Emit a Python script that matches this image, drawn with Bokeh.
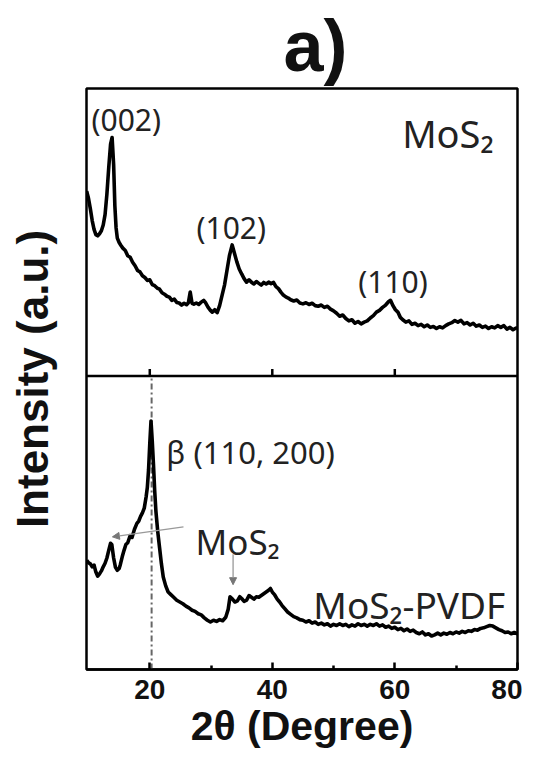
from bokeh.plotting import figure
from bokeh.models import Span, Arrow, NormalHead, FixedTicker, Range1d, Title
from bokeh.core.properties import value
from bokeh.embed import file_html
from bokeh.resources import INLINE

# ---------------- data ----------------
# MoS2 (upper panel), intensity in a.u. (panel baseline = 0)
mos2_2theta = [9.7, 10.0, 10.3, 10.6, 10.9, 11.2, 11.5, 11.8, 12.1, 12.4, 12.7, 13.0, 13.3, 13.6, 13.85,
               14.1, 14.3, 14.5, 14.7, 15.0, 15.3, 15.6, 16.0, 16.4, 16.8, 17.2, 17.6, 18.0, 18.4, 18.8,
               19.2, 19.6, 20.0, 20.4, 20.8, 21.2, 21.6, 22.0, 22.4, 22.8, 23.2, 23.6, 24.0, 24.4, 24.8,
               25.2, 25.6, 26.0, 26.3, 26.6, 26.9, 27.2, 27.6, 28.0, 28.4, 28.8, 29.1, 29.5, 29.9, 30.2,
               30.6, 31.0, 31.4, 31.8, 32.2, 32.6, 33.0, 33.45, 33.8, 34.2, 34.6, 35.0, 35.4, 35.8, 36.2,
               36.6, 37.0, 37.4, 37.8, 38.2, 38.6, 39.0, 39.4, 39.8, 40.2, 40.6, 41.0, 41.4, 41.8, 42.2,
               42.6, 43.0, 43.5, 44.0, 44.5, 45.0, 45.5, 46.0, 46.5, 47.0, 47.5, 48.0, 48.5, 49.0, 49.5,
               50.0, 50.5, 51.0, 51.5, 52.0, 52.5, 53.0, 53.5, 54.0, 54.5, 55.0, 55.5, 56.0, 56.5, 57.0,
               57.5, 58.0, 58.5, 59.0, 59.3, 59.7, 60.1, 60.5, 60.9, 61.3, 61.8, 62.3, 62.8, 63.3, 63.8,
               64.3, 64.8, 65.3, 65.8, 66.3, 66.8, 67.3, 67.8, 68.3, 68.8, 69.3, 69.8, 70.3, 70.8, 71.3,
               71.8, 72.3, 72.8, 73.3, 73.8, 74.3, 74.8, 75.3, 75.8, 76.3, 76.8, 77.3, 77.8, 78.3, 78.8,
               79.3, 79.8, 80.0]
mos2_intensity = [63.0, 60.5, 57.0, 53.0, 50.0, 48.2, 47.8, 48.5, 49.5, 51.5, 55.0, 62.0, 71.0, 79.0, 81.3,
                  72.0, 58.0, 50.5, 47.0, 45.5, 44.5, 43.6, 42.8, 41.0, 40.5, 38.8, 37.6, 36.0, 35.5, 34.2,
                  33.6, 32.6, 32.8, 31.2, 30.8, 30.0, 29.6, 28.4, 27.9, 27.2, 26.9, 25.8, 26.2, 25.1, 24.9,
                  24.2, 24.8, 24.3, 25.0, 28.6, 24.8, 24.5, 24.9, 24.4, 25.2, 25.8, 25.0, 23.5, 22.4, 21.8,
                  22.6, 21.6, 24.0, 27.5, 31.0, 36.0, 41.0, 44.7, 42.0, 39.0, 36.5, 34.8, 33.2, 32.0, 32.8,
                  32.0, 31.4, 32.2, 31.6, 31.0, 31.9, 31.4, 32.0, 31.5, 31.9, 30.5, 29.8, 28.6, 27.6, 27.0,
                  26.6, 26.0, 25.6, 25.9, 24.9, 24.6, 25.0, 24.4, 24.8, 24.0, 23.8, 24.2, 23.4, 23.8, 22.8,
                  22.2, 21.4, 20.4, 20.8, 19.6, 18.8, 19.2, 18.0, 18.6, 17.8, 18.4, 18.8, 19.8, 20.6, 21.8,
                  22.4, 23.4, 24.2, 25.4, 25.8, 24.0, 22.6, 21.8, 20.0, 19.2, 18.4, 18.8, 17.6, 18.0, 17.2,
                  17.6, 16.8, 17.4, 16.6, 16.9, 16.2, 16.8, 16.4, 17.2, 17.8, 18.2, 18.9, 18.4, 19.0, 17.8,
                  18.2, 17.4, 18.0, 17.0, 17.4, 16.6, 17.0, 16.2, 16.8, 16.4, 17.2, 16.6, 17.2, 16.0, 16.6,
                  15.8, 16.4, 16.2]

# MoS2-PVDF (lower panel), intensity in a.u.
pvdf_2theta = [9.7, 10.0, 10.3, 10.6, 10.9, 11.2, 11.5, 11.8, 12.1, 12.4, 12.7, 13.0, 13.3, 13.6, 13.8,
               14.1, 14.4, 14.7, 15.0, 15.2, 15.5, 15.8, 16.1, 16.4, 16.8, 17.1, 17.5, 17.9, 18.2, 18.5,
               18.8, 19.1, 19.4, 19.6, 19.8, 20.0, 20.2, 20.4, 20.6, 20.8, 21.0, 21.3, 21.6, 21.9, 22.2,
               22.6, 23.0, 23.4, 23.9, 24.4, 24.9, 25.4, 25.9, 26.4, 26.9, 27.4, 27.9, 28.4, 28.9, 29.4,
               29.9, 30.4, 30.9, 31.4, 31.9, 32.4, 32.8, 33.1, 33.5, 33.9, 34.3, 34.7, 35.0, 35.4, 35.8,
               36.2, 36.6, 37.0, 37.4, 37.8, 38.2, 38.6, 39.0, 39.4, 39.7, 40.0, 40.4, 40.8, 41.2, 41.6,
               42.0, 42.5, 43.0, 43.5, 44.0, 44.5, 45.0, 45.5, 46.0, 46.5, 47.0, 47.5, 48.0, 48.5, 49.0,
               49.5, 50.0, 50.5, 51.0, 51.5, 52.0, 52.5, 53.0, 53.5, 54.0, 54.5, 55.0, 55.5, 56.0, 56.5,
               57.0, 57.5, 58.0, 58.5, 59.0, 59.5, 60.0, 60.5, 61.0, 61.5, 62.0, 62.5, 63.0, 63.5, 64.0,
               64.5, 65.0, 65.5, 66.0, 66.5, 67.0, 67.5, 68.0, 68.5, 69.0, 69.5, 70.0, 70.5, 71.0, 71.5,
               72.0, 72.5, 73.0, 73.5, 74.0, 74.5, 75.0, 75.5, 76.0, 76.5, 77.0, 77.5, 78.0, 78.5, 79.0,
               79.5, 80.0]
pvdf_intensity = [37.2, 36.4, 36.0, 35.0, 35.6, 33.2, 31.8, 32.6, 33.6, 35.0, 36.2, 38.0, 40.6, 43.0, 42.6,
                  38.0, 34.8, 33.8, 34.4, 35.8, 38.4, 40.6, 42.6, 43.2, 45.6, 45.0, 47.8, 49.8, 50.6, 52.2,
                  53.4, 55.0, 58.8, 62.0, 68.0, 77.0, 84.7, 78.0, 70.0, 61.0, 54.0, 47.0, 41.5, 36.0, 31.5,
                  28.5, 26.4, 25.6, 24.6, 23.6, 23.0, 22.4, 21.6, 21.0, 20.2, 19.8, 19.0, 18.6, 17.6, 16.8,
                  16.2, 16.8, 16.4, 17.0, 16.6, 17.8, 20.5, 24.8, 24.0, 23.0, 23.4, 24.8, 24.2, 23.2, 23.6,
                  25.2, 24.6, 24.0, 24.8, 24.6, 25.2, 25.8, 26.4, 27.0, 27.6, 26.4, 25.4, 24.0, 23.0, 21.8,
                  20.8, 19.6, 18.8, 18.0, 17.6, 17.0, 16.8, 16.2, 16.6, 15.8, 16.2, 15.4, 15.8, 15.2, 15.6,
                  14.8, 15.4, 15.0, 15.6, 15.0, 15.4, 14.6, 15.2, 14.8, 15.6, 15.0, 15.4, 14.8, 15.4, 15.0,
                  15.6, 14.8, 15.2, 14.4, 14.8, 14.0, 14.4, 13.6, 14.0, 13.2, 13.8, 13.0, 13.4, 12.6, 12.2,
                  12.8, 11.8, 12.2, 11.4, 11.8, 12.4, 11.8, 12.4, 12.0, 12.6, 12.2, 12.8, 12.4, 13.0, 12.6,
                  13.2, 13.0, 13.6, 13.4, 14.0, 14.2, 14.6, 15.0, 14.8, 14.2, 13.6, 13.2, 12.6, 12.8, 12.2,
                  12.6, 12.2]

upper_offset = 100.0          # vertical offset of the MoS2 trace (panel divider)
x_ticks = [20, 40, 60, 80]
x_minor_ticks = [30, 50, 70]
divider_ticks = [20, 40, 60]
beta_peak = 20.3              # position of the beta (110, 200) line

peak_labels = ["(002)", "(102)", "(110)"]
peak_label_x = [16.16, 33.3, 59.7]
peak_label_y = [87.4, 50.5, 32.2]

# ---------------- figure ----------------
p = figure(width=522, height=763, output_backend="svg", toolbar_location=None,
           x_range=Range1d(9.67, 80.03), y_range=Range1d(0, 198),
           min_border_left=86, min_border_right=5, min_border_top=88, min_border_bottom=94)

p.title = Title(text="a)", align="left", offset=197, standoff=2, vertical_align="top",
                text_font="Liberation Sans", text_font_size="72px",
                text_font_style="bold", text_color="#111111")

p.background_fill_color = "white"
p.border_fill_color = "white"
p.outline_line_color = "black"
p.outline_line_width = 2.5
p.xgrid.visible = False
p.ygrid.visible = False

xa = p.xaxis[0]
xa.ticker = FixedTicker(ticks=x_ticks, minor_ticks=x_minor_ticks)
xa.major_tick_in = 7
xa.major_tick_out = 0
xa.minor_tick_in = 4
xa.minor_tick_out = 0
xa.major_tick_line_width = 2.5
xa.minor_tick_line_width = 2.5
xa.axis_line_width = 2.5
xa.major_label_text_font = "Liberation Sans"
xa.major_label_text_font_size = "28px"
xa.major_label_text_font_style = "bold"
xa.major_label_text_color = "#111111"
xa.major_label_standoff = 10
xa.axis_label = "2θ (Degree)"
xa.axis_label_text_font = "Liberation Sans"
xa.axis_label_text_font_size = "41px"
xa.axis_label_text_font_style = "bold"
xa.axis_label_text_color = "#111111"
xa.axis_label_standoff = 1

ya = p.yaxis[0]
ya.ticker = FixedTicker(ticks=[])
ya.axis_line_color = None
ya.major_tick_in = 0
ya.major_tick_out = 0
ya.minor_tick_in = 0
ya.minor_tick_out = 0
ya.major_label_standoff = 0
ya.axis_label = "Intensity (a.u.)"
ya.axis_label_text_font = "Liberation Sans"
ya.axis_label_text_font_size = "44px"
ya.axis_label_text_font_style = "bold"
ya.axis_label_text_color = "#111111"
ya.axis_label_standoff = 30

# panel divider with its upward ticks
p.add_layout(Span(location=upper_offset, dimension="width", line_color="black", line_width=2.5))
p.segment(x0=divider_ticks, y0=[upper_offset] * len(divider_ticks),
          x1=divider_ticks, y1=[upper_offset + 2.4] * len(divider_ticks),
          line_color="black", line_width=2.5)

# dash-dot guide at beta peak
p.segment(x0=[beta_peak], y0=[0], x1=[beta_peak], y1=[upper_offset],
          line_color="#666666", line_width=2, line_dash="6 3 2 3")

# traces
p.line(mos2_2theta, [v + upper_offset for v in mos2_intensity],
       line_color="black", line_width=3.6, line_join="round")
p.line(pvdf_2theta, pvdf_intensity, line_color="black", line_width=3.6, line_join="round")

# annotations
font = value("Noto Sans")
p.text(x=peak_label_x, y=[v + upper_offset for v in peak_label_y], text=peak_labels,
       text_font=font, text_font_size="30px", text_align="center", text_baseline="middle",
       text_color="#222222")
p.text(x=[61.2], y=[83.0 + upper_offset], text=["MoS₂"], text_font=font, text_font_size="38px",
       text_align="left", text_baseline="alphabetic", text_color="#222222")
p.text(x=[22.7], y=[74.0], text=["β (110, 200)"], text_font=font, text_font_size="31px",
       text_align="left", text_baseline="alphabetic", text_color="#222222")
p.text(x=[27.46], y=[43.7], text=["MoS₂"], text_font=font, text_font_size="35px",
       text_align="left", text_baseline="alphabetic", text_color="#222222")
p.text(x=[46.7], y=[22.3], text=["MoS₂-PVDF"], text_font=font, text_font_size="37px",
       text_align="left", text_baseline="alphabetic", text_color="#222222")

p.add_layout(Arrow(end=NormalHead(size=7, fill_color="#777777", line_color="#777777"),
                   x_start=25.5, y_start=48.6, x_end=13.9, y_end=45.2,
                   line_color="#999999", line_width=1.3))
p.add_layout(Arrow(end=NormalHead(size=7, fill_color="#777777", line_color="#777777"),
                   x_start=33.6, y_start=39.3, x_end=33.6, y_end=28.9,
                   line_color="#999999", line_width=1.3))

open("out.html", "w").write(file_html(p, INLINE))
